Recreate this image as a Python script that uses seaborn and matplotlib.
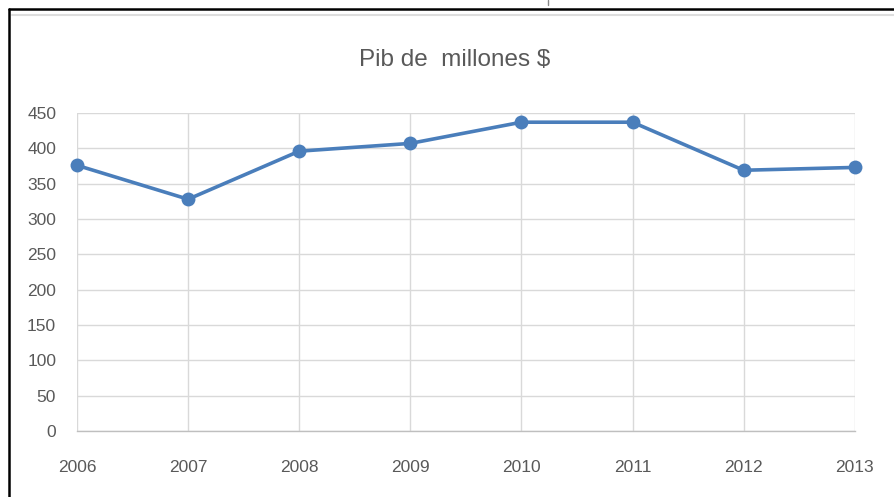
import numpy as np
import pandas as pd
import matplotlib
matplotlib.use("Agg")
import matplotlib.pyplot as plt
import seaborn as sns
from matplotlib.lines import Line2D

# data
years = [2006, 2007, 2008, 2009, 2010, 2011, 2012, 2013]
pib = [376, 328, 396, 407, 437, 437, 369, 373]
yticks = [0, 50, 100, 150, 200, 250, 300, 350, 400, 450]

df = pd.DataFrame({"year": years, "pib": pib})

sns.set_theme(style="white")
plt.rcParams['font.family'] = ['Liberation Sans Narrow', 'Liberation Sans', 'DejaVu Sans']

fig = plt.figure(figsize=(8.94, 4.97), dpi=100)
ax = fig.add_axes([0.0861, 0.1328, 0.8700, 0.6398])

sns.lineplot(x="year", y="pib", data=df, ax=ax, color="#4a7ebb",
             linewidth=2.6, marker="o", markersize=10, markeredgewidth=0,
             clip_on=False, zorder=3)

ax.set_xlim(2006, 2013)
ax.set_ylim(0, 450)
ax.set_xticks(years)
ax.set_yticks(yticks)
ax.set_xlabel("")
ax.set_ylabel("")

ax.grid(True, color="#d9d9d9", linewidth=1)
for s in ["top", "right", "left"]:
    ax.spines[s].set_visible(False)
ax.spines["bottom"].set_color("#bfbfbf")
ax.spines["bottom"].set_linewidth(1)

ax.tick_params(axis="both", length=0, labelsize=12.5, labelcolor="#595959")
ax.tick_params(axis="y", pad=15)
ax.tick_params(axis="x", pad=21)

fig.text(0.509, 0.879, "Pib de  millones $", ha="center", va="center",
         fontsize=17.5, color="#595959")

# outer frame of the screenshot
fig.add_artist(Line2D([9/894, 9/894], [0, 1 - 9/497], color="black", linewidth=1.8,
                      transform=fig.transFigure))
fig.add_artist(Line2D([9/894, 1], [1 - 9/497, 1 - 9/497], color="black", linewidth=1.8,
                      transform=fig.transFigure))
fig.add_artist(Line2D([12/894, 1], [1 - 15/497, 1 - 15/497], color="#dddddd", linewidth=1.5,
                      transform=fig.transFigure))
fig.add_artist(Line2D([548/894, 548/894], [1, 1 - 5/497], color="#888888", linewidth=1,
                      transform=fig.transFigure))

fig.savefig("out.png", dpi=100)
